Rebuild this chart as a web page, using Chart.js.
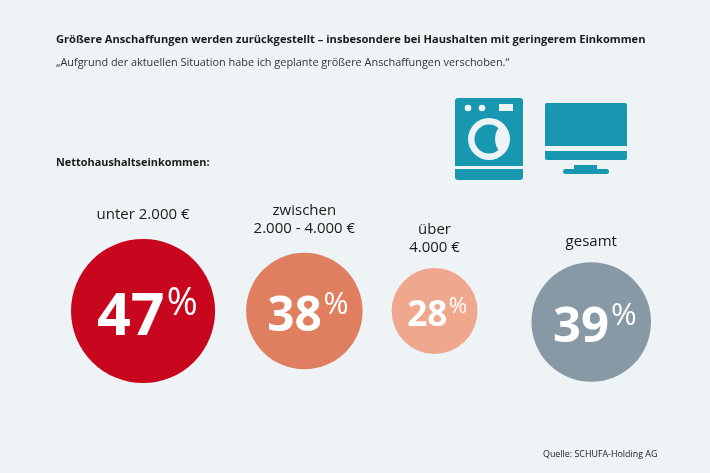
<!DOCTYPE html>
<html>
<head>
<meta charset="utf-8">
<title>Größere Anschaffungen</title>
<script src="https://cdn.jsdelivr.net/npm/chart.js@4"></script>
<style>
  html, body { margin: 0; padding: 0; background: #eef3f6; }
  canvas { display: block; }
</style>
</head>
<body>
<canvas id="chart" width="710" height="473"></canvas>
<script>
'use strict'

// values
var categories = [['unter 2.000 €'], ['zwischen', '2.000 - 4.000 €'], ['über', '4.000 €'], ['gesamt']]
var shares = [47, 38, 28, 39]
var colors = ['#c8071e', '#e07f60', '#efa78e', '#8899a6']

var titleText = 'Größere Anschaffungen werden zurückgestellt – insbesondere bei Haushalten mit geringerem Einkommen'
var subtitleText = '„Aufgrund der aktuellen Situation habe ich geplante größere Anschaffungen verschoben.“'
var incomeLabel = 'Nettohaushaltseinkommen:'
var sourceText = 'Quelle: SCHUFA-Holding AG'

// layout: radius grows with the value, circles sit side by side with gaps
var FONT = '"Open Sans", "Noto Sans", sans-serif'
var BG = '#eef3f6'
var TEAL = '#1797b0'
var PX_PER_POINT = 1.533
var START_X = 71
var GAPS = [31, 29, 54]
var ROW_Y = [311, 311, 311, 322]
var LABEL_GAP = [19.5, 19.5, 16.5, 16.5]

function bubbleData() {
    var list = []
    var left = START_X
    for (var i = 0; i < shares.length; i++) {
        var r = shares[i] * PX_PER_POINT
        list.push({ x: left + r, y: ROW_Y[i], r: r })
        left += 2 * r + (GAPS[i] || 0)
    }
    return list
}

function roundRect(ctx, x, y, w, h, radii) {
    ctx.beginPath()
    ctx.roundRect(x, y, w, h, radii)
    ctx.fill()
}

function circle(ctx, x, y, r) {
    ctx.beginPath()
    ctx.arc(x, y, r, 0, Math.PI * 2)
    ctx.fill()
}

function drawWasher(ctx) {
    ctx.fillStyle = TEAL
    roundRect(ctx, 455, 98, 68, 68, [3, 3, 0, 0])
    roundRect(ctx, 455, 169, 68, 11, [0, 0, 3, 3])
    ctx.fillStyle = BG
    circle(ctx, 468, 108, 3.3)
    circle(ctx, 482, 108, 3.3)
    ctx.fillRect(499, 104, 14, 7)
    circle(ctx, 489, 139, 21)
    ctx.fillStyle = TEAL
    circle(ctx, 489, 139, 14.5)
    // bite out of the drum, stays inside the ring
    ctx.save()
    ctx.beginPath()
    ctx.arc(489, 139, 20.5, 0, Math.PI * 2)
    ctx.clip()
    ctx.fillStyle = BG
    circle(ctx, 514.5, 139, 19.5)
    ctx.restore()
}

function drawScreen(ctx) {
    ctx.fillStyle = TEAL
    roundRect(ctx, 545, 103, 82, 43, [2, 2, 0, 0])
    roundRect(ctx, 545, 151, 82, 9, [0, 0, 2, 2])
    ctx.fillRect(574, 165, 23, 5)
    roundRect(ctx, 563, 169, 46, 5, 2.5)
}

var decorations = {
    id: 'decorations',
    beforeDraw: function (chart) {
        var ctx = chart.ctx
        ctx.save()
        ctx.fillStyle = BG
        ctx.fillRect(0, 0, chart.width, chart.height)
        drawWasher(ctx)
        drawScreen(ctx)
        ctx.restore()
    },
    afterDatasetsDraw: function (chart) {
        var ctx = chart.ctx
        var points = chart.getDatasetMeta(0).data
        ctx.save()
        ctx.textBaseline = 'alphabetic'

        ctx.fillStyle = '#1a1a1a'
        ctx.textAlign = 'left'
        ctx.font = 'bold 10.9px ' + FONT
        ctx.fillText(incomeLabel, 56, 166)
        ctx.font = '8.9px ' + FONT
        ctx.fillText(sourceText, 543, 457)

        for (var i = 0; i < points.length; i++) {
            var x = points[i].x
            var y = points[i].y
            var r = shares[i] * PX_PER_POINT

            // labels above the circle
            var lines = categories[i]
            ctx.fillStyle = '#1a1a1a'
            ctx.textAlign = 'center'
            ctx.font = '15px ' + FONT
            for (var j = 0; j < lines.length; j++) {
                ctx.fillText(lines[j], x, y - r - LABEL_GAP[i] - (lines.length - 1 - j) * 18)
            }

            // big number with raised percent sign
            var num = String(shares[i])
            var numFont = 'bold ' + (r * 0.82).toFixed(1) + 'px ' + FONT
            var pctFont = (r * 0.52).toFixed(1) + 'px ' + FONT
            ctx.font = numFont
            var numW = ctx.measureText(num).width
            ctx.font = pctFont
            var pctW = ctx.measureText('%').width
            var gap = r * 0.03
            var startX = x - (numW + gap + pctW) / 2 + r * 0.06
            ctx.fillStyle = '#ffffff'
            ctx.textAlign = 'left'
            ctx.font = numFont
            ctx.fillText(num, startX, y + r * 0.34)
            ctx.font = pctFont
            ctx.fillText('%', startX + numW + gap, y + r * 0.05)
        }
        ctx.restore()
    }
}

new Chart(document.getElementById('chart'), {
    type: 'bubble',
    data: {
        datasets: [{
            data: bubbleData(),
            backgroundColor: colors,
            borderWidth: 0,
            hoverBorderWidth: 0,
            clip: false
        }]
    },
    options: {
        responsive: false,
        animation: false,
        devicePixelRatio: 1,
        layout: { autoPadding: false, padding: { left: 56, top: 33, right: 0, bottom: 0 } },
        scales: {
            x: { type: 'linear', display: false, min: 56, max: 710 },
            y: { type: 'linear', display: false, reverse: true, min: 86, max: 473 }
        },
        plugins: {
            legend: { display: false },
            tooltip: { enabled: false },
            title: {
                display: true,
                text: titleText,
                align: 'start',
                color: '#1a1a1a',
                font: { family: FONT, size: 11.1, weight: 'bold', lineHeight: '14px' },
                padding: { top: 0, bottom: 9 }
            },
            subtitle: {
                display: true,
                text: subtitleText,
                align: 'start',
                color: '#333333',
                font: { family: FONT, size: 10.9, weight: 'normal', lineHeight: '14px' },
                padding: { top: 0, bottom: 16 }
            }
        }
    },
    plugins: [decorations]
})
</script>
</body>
</html>
